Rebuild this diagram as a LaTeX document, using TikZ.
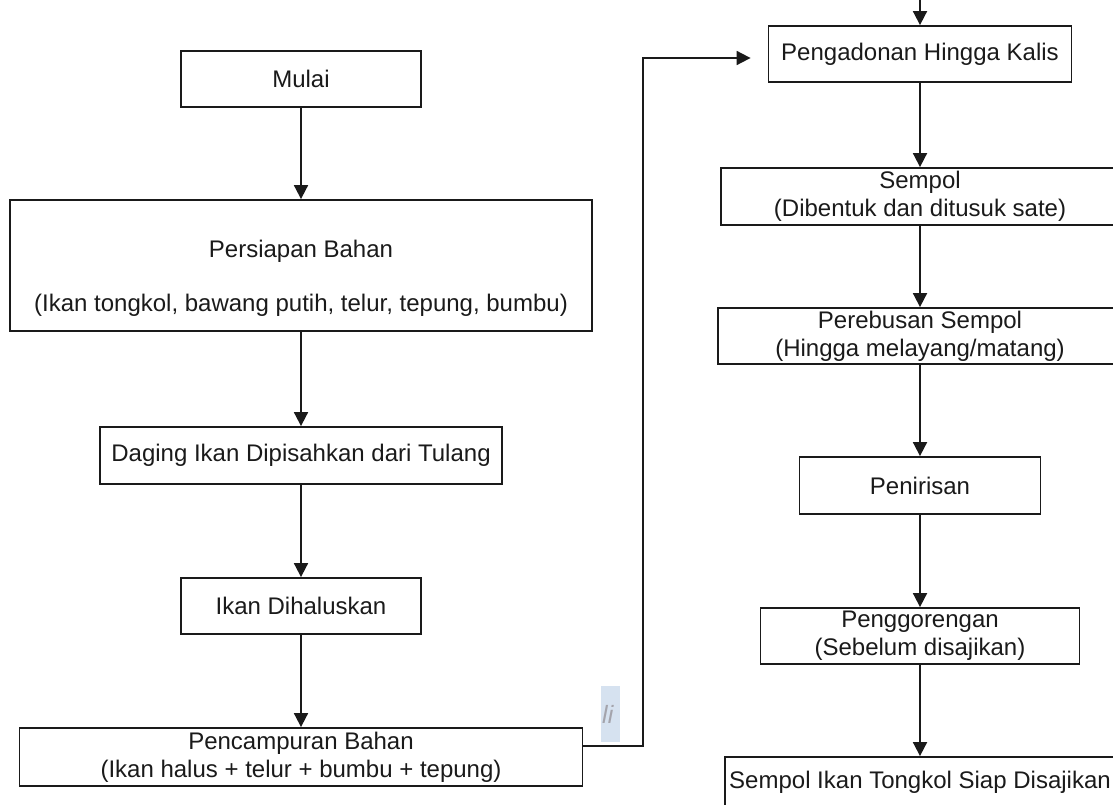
\documentclass[tikz,border=0pt]{standalone}
\usepackage{fontspec}
\setmainfont{Liberation Sans}
\usetikzlibrary{arrows.meta}
\definecolor{ink}{HTML}{1A1A1A}
\definecolor{litebg}{HTML}{D6E2F0}
\definecolor{litetx}{HTML}{A4A4AC}
\begin{document}
\begin{tikzpicture}[x=1pt,y=-1pt,
  box/.style={draw=ink, line width=1.8pt, rectangle, inner sep=0pt, align=center, text=ink,
    font=\fontsize{24}{28}\selectfont},
  arr/.style={draw=ink, line width=1.8pt, -{Triangle[length=14pt,width=14pt]}}]
\useasboundingbox (0,0) rectangle (1113,805);
\clip (0,0) rectangle (1113,805);
% left column
\node[box, minimum width=240pt, minimum height=56pt] (mulai) at (301,79) {Mulai};
\node[box, minimum width=582pt, minimum height=131pt,
  label={[yshift=-12.5pt, align=center, text=ink, font=\fontsize{24}{27}\selectfont]center:{Persiapan Bahan\\[27pt](Ikan tongkol, bawang putih, telur, tepung, bumbu)}}] (siap0) at (301,265.5) {};
\node[box, minimum width=402pt, minimum height=57pt] (daging) at (301,455.5) {Daging Ikan Dipisahkan dari Tulang};
\node[box, minimum width=240pt, minimum height=56pt] (halus) at (301,606) {Ikan Dihaluskan};
\node[box, minimum width=563pt, minimum height=58pt] (campur) at (301,757) {Pencampuran Bahan\\(Ikan halus + telur + bumbu + tepung)};
% right column
\node[box, minimum width=303pt, minimum height=56pt] (adon) at (920,54) {Pengadonan Hingga Kalis};
\node[box, minimum width=398pt, minimum height=57pt] (sempol) at (920,196.5) {Sempol\\(Dibentuk dan ditusuk sate)};
\node[box, minimum width=404pt, minimum height=56pt] (rebus) at (920,336) {Perebusan Sempol\\(Hingga melayang/matang)};
\node[box, minimum width=241pt, minimum height=57pt] (tiris) at (920,485.5) {Penirisan};
\node[box, minimum width=319pt, minimum height=56pt] (goreng) at (920,636) {Penggorengan\\(Sebelum disajikan)};
\node[box, minimum width=390pt, minimum height=50pt] (saji) at (920,782) {Sempol Ikan Tongkol Siap Disajikan};
% artifact
\fill[litebg] (601,686) rectangle (620,742);
\begin{scope}
\clip (601,686) rectangle (620,742);
\node[anchor=base west, inner sep=0pt, text=litetx, font=\fontsize{25}{25}\selectfont\itshape] (lic) at (602,723) {li};
\end{scope}
% connectors
\draw[arr] (mulai) -- (siap0);
\draw[arr] (siap0) -- (daging);
\draw[arr] (daging) -- (halus);
\draw[arr] (halus) -- (campur);
\coordinate (j1) at (643,746);
\coordinate (j2) at (643,58);
\draw[arr, shorten >=17pt] (campur.east |- j1) -- (j1) -- (j2) -- (adon.west |- j2);
\coordinate (topin) at (920,-10);
\draw[arr] (topin) -- (adon.north);
\draw[arr] (adon) -- (sempol);
\draw[arr] (sempol) -- (rebus);
\draw[arr] (rebus) -- (tiris);
\draw[arr] (tiris) -- (goreng);
\draw[arr] (goreng) -- (saji);
\end{tikzpicture}
\end{document}
